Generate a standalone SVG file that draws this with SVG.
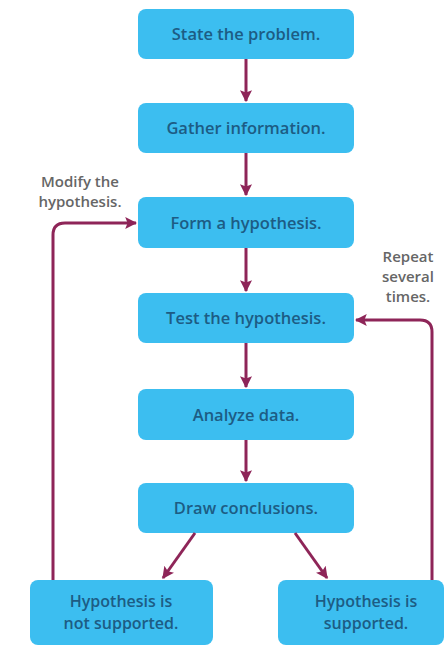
<svg xmlns="http://www.w3.org/2000/svg" width="446" height="647" viewBox="0 0 446 647">
<style>
.box{fill:#3cbef0;}
.bt{font-family:"Open Sans",sans-serif;font-size:16.5px;font-weight:600;fill:#1d5c84;text-anchor:middle;}
.bt2{font-family:"Open Sans",sans-serif;font-size:16px;font-weight:600;fill:#1d5c84;text-anchor:middle;}
.lb{font-family:"Open Sans",sans-serif;font-size:15px;font-weight:600;fill:#666;text-anchor:middle;}
.ar{stroke:#8e2558;stroke-width:3;fill:none;}
</style>
<defs>
<marker id="ah" markerWidth="4" markerHeight="4" refX="3.6" refY="2" orient="auto" markerUnits="strokeWidth">
<path d="M0,0 L4,2 L0,4 L0.8,2 Z" fill="#8e2558"/>
</marker>
</defs>
<rect width="446" height="647" fill="#fff"/>
<g id="n1"><rect class="box" x="138" y="9" width="216" height="50" rx="8"/><text class="bt" x="246" y="40">State the problem.</text></g>
<g id="n2"><rect class="box" x="138" y="103" width="216" height="50" rx="8"/><text class="bt" x="246" y="134">Gather information.</text></g>
<g id="n3"><rect class="box" x="138" y="197" width="216" height="51" rx="8"/><text class="bt" x="246" y="229">Form a hypothesis.</text></g>
<g id="n4"><rect class="box" x="138" y="293" width="216" height="50" rx="8"/><text class="bt" x="246" y="324">Test the hypothesis.</text></g>
<g id="n5"><rect class="box" x="138" y="389" width="216" height="51" rx="8"/><text class="bt" x="246" y="421">Analyze data.</text></g>
<g id="n6"><rect class="box" x="138" y="483" width="216" height="50" rx="8"/><text class="bt" x="246" y="514">Draw conclusions.</text></g>
<g id="n7"><rect class="box" x="30" y="580" width="183" height="65" rx="8"/><text class="bt2" x="121" y="607">Hypothesis is</text><text class="bt2" x="121" y="629">not supported.</text></g>
<g id="n8"><rect class="box" x="278" y="580" width="166" height="65" rx="8"/><text class="bt2" x="366" y="607">Hypothesis is</text><text class="bt2" x="366" y="629">supported.</text></g>
<g id="labels">
<text class="lb" x="80" y="187">Modify the</text>
<text class="lb" x="80" y="207">hypothesis.</text>
<text class="lb" x="408" y="262">Repeat</text>
<text class="lb" x="408" y="282">several</text>
<text class="lb" x="408" y="302">times.</text>
</g>
<g id="connectors">
<path class="ar" d="M246,59 L246,101" marker-end="url(#ah)"/>
<path class="ar" d="M246,153 L246,195" marker-end="url(#ah)"/>
<path class="ar" d="M246,248 L246,291" marker-end="url(#ah)"/>
<path class="ar" d="M246,343 L246,387" marker-end="url(#ah)"/>
<path class="ar" d="M246,440 L246,481" marker-end="url(#ah)"/>
<path class="ar" d="M195,533 L163,578" marker-end="url(#ah)"/>
<path class="ar" d="M295,533 L327,578" marker-end="url(#ah)"/>
<path class="ar" d="M53,580 L53,235 Q53,223 65,223 L136,223" marker-end="url(#ah)"/>
<path class="ar" d="M432,580 L432,332 Q432,320 420,320 L356,320" marker-end="url(#ah)"/>
</g>
</svg>
